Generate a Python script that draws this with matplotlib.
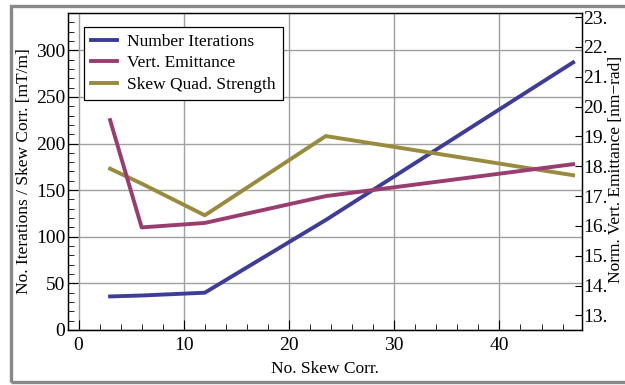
import matplotlib
matplotlib.use("Agg")
import matplotlib.pyplot as plt
from matplotlib.patches import Rectangle
from matplotlib.ticker import MultipleLocator, FormatStrFormatter

plt.rcParams['font.family'] = ['Liberation Serif', 'DejaVu Serif']
plt.rcParams['font.size'] = 12

# data
n_skew = [3, 6, 12, 23.5, 47]
iterations = [36, 37, 40, 118, 287]
vert_emit = [19.55, 15.95, 16.1, 17.0, 18.07]      # nm-rad (right axis)
skew_strength = [173, 157, 123, 208, 166]          # mT/m

blue_c = "#3d3d99"
magenta_c = "#993d71"
olive_c = "#998b3d"
grid_c = "#a0a0a0"

fig = plt.figure(figsize=(6.25, 3.85), dpi=100)
ax = fig.add_axes([68 / 625, 55 / 385, 513.5 / 625, 317 / 385])
ax2 = ax.twinx()

l1, = ax.plot(n_skew, iterations, color=blue_c, lw=2.8, label="Number Iterations")
l2, = ax2.plot(n_skew, vert_emit, color=magenta_c, lw=2.8, label="Vert. Emittance")
l3, = ax.plot(n_skew, skew_strength, color=olive_c, lw=2.8, label="Skew Quad. Strength")

ax.set_xlim(-1, 47.8)
ax.set_ylim(0, 340)
ax2.set_ylim(12.51, 23.14)

ax.xaxis.set_major_locator(MultipleLocator(10))
ax.xaxis.set_minor_locator(MultipleLocator(2))
ax.yaxis.set_major_locator(MultipleLocator(50))
ax.yaxis.set_minor_locator(MultipleLocator(10))
ax2.yaxis.set_major_locator(MultipleLocator(1))
ax2.yaxis.set_major_formatter(FormatStrFormatter("%d."))

ax.grid(True, which="major", color=grid_c, lw=1.0)
ax.set_axisbelow(True)

ax.tick_params(which="both", direction="in", top=False, right=False, labelsize=14)
ax.tick_params(which="major", length=7, width=0.8)
ax.tick_params(which="minor", length=4, width=0.6)
ax.tick_params(axis="y", pad=2)
ax.tick_params(axis="x", pad=5)
ax2.tick_params(direction="in", length=5, width=0.8, labelsize=14, pad=1)

for a in (ax, ax2):
    for s in a.spines.values():
        s.set_linewidth(0.9)

ax.set_xlabel("No. Skew Corr.", fontsize=12.5, labelpad=5)
ax.set_ylabel("No. Iterations / Skew Corr. [mT/m]", fontsize=12.5, labelpad=3)
fig.text(616 / 625, 0.56, "Norm. Vert. Emittance [nm\u2212rad]", rotation=90,
         ha="center", va="center", fontsize=12.5)

leg = ax.legend(handles=[l1, l2, l3], loc="upper left",
                bbox_to_anchor=(0.031, 0.956), borderaxespad=0,
                fancybox=False, framealpha=1, edgecolor="black",
                fontsize=12.5, handlelength=1.5, handletextpad=0.6,
                labelspacing=0.3)
leg.get_frame().set_linewidth(0.9)
ax2.set_zorder(ax.get_zorder() + 1)
ax.patch.set_visible(True)
ax2.patch.set_visible(False)
# keep legend above the twin axis line
leg.remove()
ax2.add_artist(leg)

fig.patches.append(Rectangle((10.5 / 625, 1 - 381.5 / 385), 1.1, 376 / 385,
                             transform=fig.transFigure, fill=False,
                             edgecolor="#888888", lw=2.4, clip_on=False))

fig.savefig("out.png", dpi=100)
